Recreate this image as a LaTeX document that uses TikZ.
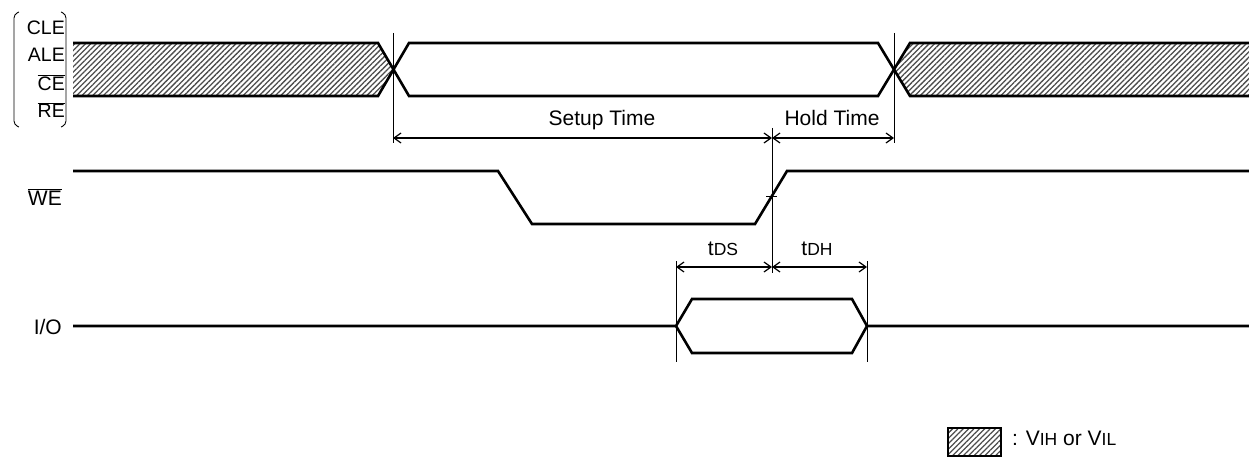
\documentclass[tikz,border=0pt]{standalone}
\usepackage{fontspec}
\setmainfont{Liberation Sans}
\usetikzlibrary{patterns.meta,arrows.meta}
\tikzset{
  sig/.style={line width=2.6pt, line join=miter},
  guide/.style={line width=0.9pt},
  dim/.style={line width=1.6pt, {Straight Barb[length=7pt,width=10pt,line width=1.2pt]}-{Straight Barb[length=7pt,width=10pt,line width=1.2pt]}},
  hatch/.style={pattern={Lines[angle=45,distance=3.8pt,line width=1.3pt]}, pattern color=black!70},
  lbl/.style={inner sep=0pt, font=\fontsize{21}{24}\selectfont},
  sublbl/.style={inner sep=0pt, font=\fontsize{19.5}{22}\selectfont},
}
\newcommand{\smallsub}[1]{{\fontsize{17.5}{18}\selectfont #1}}
\begin{document}
\begin{tikzpicture}[x=1pt,y=-1pt]
\useasboundingbox (0,0) rectangle (1249,457);
% ---- control signals group
\node[sublbl, anchor=base east] (cle) at (65,35) {CLE};
\node[sublbl, anchor=base east] (ale) at (65,62) {ALE};
\node[sublbl, anchor=base east] (ce) at (65,90.5) {$\overline{\mbox{CE}}$};
\node[sublbl, anchor=base east] (re) at (65,118) {$\overline{\mbox{RE}}$};
\draw[line width=0.9pt, rounded corners=4pt] (19,12) -- (14,14) -- (14,125) -- (19,127);
\draw[line width=0.9pt, rounded corners=4pt] (61,12) -- (66,14) -- (66,125) -- (61,127);
% hatched (don't care) regions
\fill[hatch] (73,43) -- (378,43) -- (393,69.5) -- (378,96) -- (73,96) -- cycle;
\fill[hatch] (1249,43) -- (910,43) -- (894,69.5) -- (910,96) -- (1249,96) -- cycle;
\draw[sig] (73,43) -- (378,43) -- (409,96) -- (878,96) -- (910,43) -- (1249,43);
\draw[sig] (73,96) -- (378,96) -- (409,43) -- (878,43) -- (910,96) -- (1249,96);
% guide lines
\coordinate (g1t) at (393,33); \coordinate (g1b) at (393,143);
\coordinate (g2t) at (894,33); \coordinate (g2b) at (894,143);
\coordinate (g3t) at (772,128); \coordinate (g3b) at (772,273);
\coordinate (g4t) at (676,261); \coordinate (g4b) at (676,362);
\coordinate (g5t) at (867,261); \coordinate (g5b) at (867,362);
\draw[guide] (g1t) -- (g1b);
\draw[guide] (g2t) -- (g2b);
\draw[guide] (g3t) -- (g3b);
\draw[guide] (g4t) -- (g4b);
\draw[guide] (g5t) -- (g5b);
% setup / hold
\coordinate (s1) at (393,138); \coordinate (s2) at (772,138); \coordinate (s3) at (894,138);
\draw[dim] (s1) -- (s2);
\draw[dim] (s2) -- (s3);
\node[lbl, anchor=base] (setup) at (602,126) {Setup Time};
\node[lbl, anchor=base] (hold) at (832,126) {Hold Time};
% WE
\node[lbl, anchor=base east] (we) at (62,205) {$\overline{\mbox{WE}}$};
\draw[sig] (73,171) -- (498,171) -- (532,224) -- (755,224) -- (787,171) -- (1249,171);
\draw[guide] (766,196) -- (777,196);
% tDS / tDH
\coordinate (d1) at (676,267); \coordinate (d2) at (772,267); \coordinate (d3) at (867,267);
\draw[dim] (d1) -- (d2);
\draw[dim] (d2) -- (d3);
\node[lbl, anchor=base] (tds) at (723,255) {t\smallsub{DS}};
\node[lbl, anchor=base] (tdh) at (817,255) {t\smallsub{DH}};
% I/O
\node[lbl, anchor=base east] (io) at (62,334) {I/O};
\draw[sig] (73,326) -- (676,326) -- (692,299) -- (852,299) -- (867,326) -- (1249,326);
\draw[sig] (676,326) -- (692,353) -- (852,353) -- (867,326);
% legend
\draw[hatch, draw=black, line width=2pt] (948,428) rectangle (1001,456);
\node[lbl, anchor=base west] (leg) at (1012,445) {: V\smallsub{IH} or V\smallsub{IL}};
\end{tikzpicture}
\end{document}
